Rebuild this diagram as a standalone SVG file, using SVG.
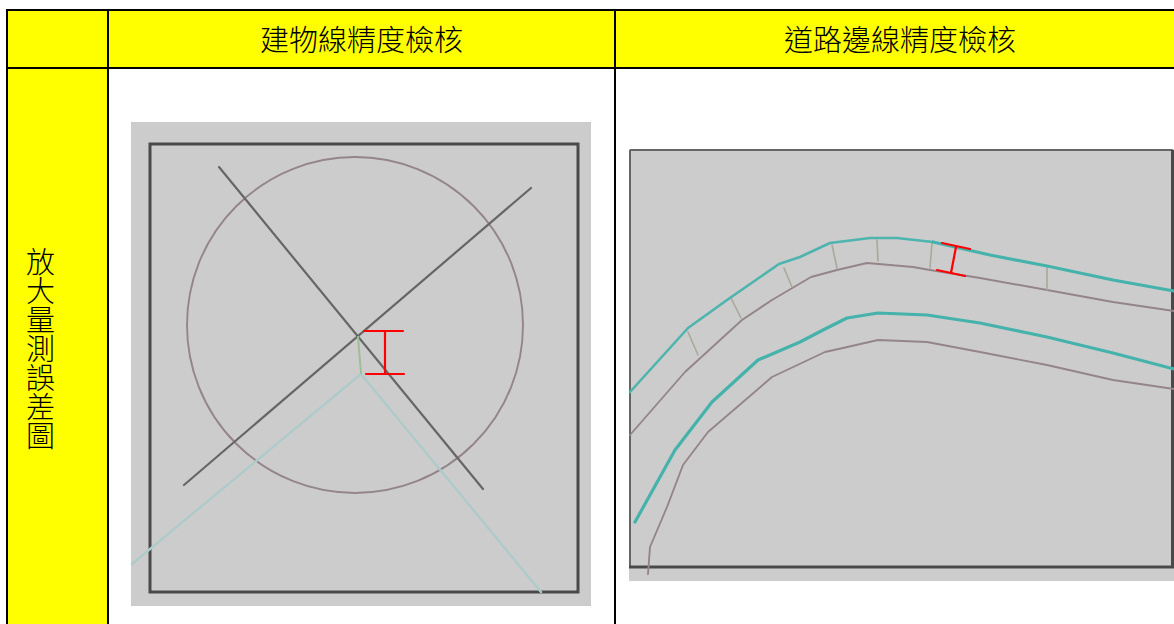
<svg xmlns="http://www.w3.org/2000/svg" width="1174" height="624" viewBox="0 0 1174 624">
<defs><filter id="soft" x="-5%" y="-5%" width="110%" height="110%"><feGaussianBlur stdDeviation="0.6"/></filter></defs>
<style>
.grid{stroke:#000;stroke-width:2;fill:none}
.hd{font-family:"Noto Sans CJK TC","Liberation Sans",sans-serif;font-size:29px;font-weight:300;fill:#000;text-anchor:middle}
.vt{font-family:"Noto Sans CJK TC","Liberation Sans",sans-serif;font-size:29px;font-weight:300;fill:#000;writing-mode:vertical-rl}
.n{fill:none;stroke-linejoin:round;stroke-linecap:round}
.brown{stroke:#94858a;stroke-width:1.9}
.dark{stroke:#666;stroke-width:2.2}
.teal{stroke:#45b3ab;stroke-width:3.2}
.teal-thin{stroke:#4db5ae;stroke-width:2.6}
.lteal{stroke:#aecbca;stroke-width:2.4}
.tick{stroke:#a8a89c;stroke-width:1.6}
.red{stroke:#ff0000;stroke-width:2.2}
</style>
<rect width="1174" height="624" fill="#fff"/>
<g id="table">
<rect x="7" y="10" width="1167" height="58" fill="#ffff00"/>
<rect x="7" y="68" width="101" height="556" fill="#ffff00"/>
<path class="grid" d="M6 10H1174M7 68H1174M7 10V624M108 10V624M615 10V624"/>
</g>
<g id="head-a"><text class="hd" x="361.5" y="51">建物線精度檢核</text></g>
<g id="head-b"><text class="hd" x="900" y="51">道路邊線精度檢核</text></g>
<g id="side"><text class="vt" x="40.500" y="247">放大量測誤差圖</text></g>
<g id="picture-a">
<rect x="131" y="122" width="460" height="484" fill="#cccccc"/>
<g filter="url(#soft)">
<rect x="150" y="144" width="428" height="448" fill="none" stroke="#4a4a4a" stroke-width="3"/>
<circle cx="355" cy="325" r="168" class="n brown"/>
<path class="n lteal" d="M132 564L361 374L541 592"/>
<path class="n dark" d="M219 167L483 489M531 188L184 485"/>
<path class="n" stroke="#9fbe96" stroke-width="2" d="M358 337L361 373"/>
</g>
<path class="n red" d="M364 331H403M366 374H404M385 331V374"/>
</g>
<g id="picture-b">
<rect x="629" y="149" width="545" height="432" fill="#cccccc"/>
<g filter="url(#soft)">
<path fill="none" stroke="#666" stroke-width="2" d="M630 150H1172.500M630 150V567"/>
<path fill="none" stroke="#4a4a4a" stroke-width="3" d="M629 567H1172.500V150"/>
<path class="n brown" d="M630 435L685 372L742 320L772 300L811 277L837 270L867 263L913 267L930 270L980 278L1047 290L1113 302L1174 311"/>
<path class="n brown" d="M648 574L650 547L667 507L683 465L708 432L772 377L825 352L843 348L878 340L927 342L980 352L1047 365L1113 380L1174 389"/>
<path class="n tick" d="M688 332L698 355M731 298L741 318M784 268L792 287M832 245L837 268M877 240L878 261M932 243L930 268M1047 268L1047 290"/>
<path class="n teal-thin" d="M630 392L688 328L727 300L779 264L800 257L830 243L870 238L897 238L933 242"/>
<path class="n teal" d="M933 242L990 255L1047 266L1113 280L1174 291"/>
<path class="n teal" d="M635 522L675 450L712 402L758 360L800 342L825 329L847 318L878 313L927 315L980 323L1047 337L1113 353L1174 369"/>
</g>
<path class="n red" d="M942 243L970 249M937 270L965 276M956 247L951 273"/>
</g>
</svg>
